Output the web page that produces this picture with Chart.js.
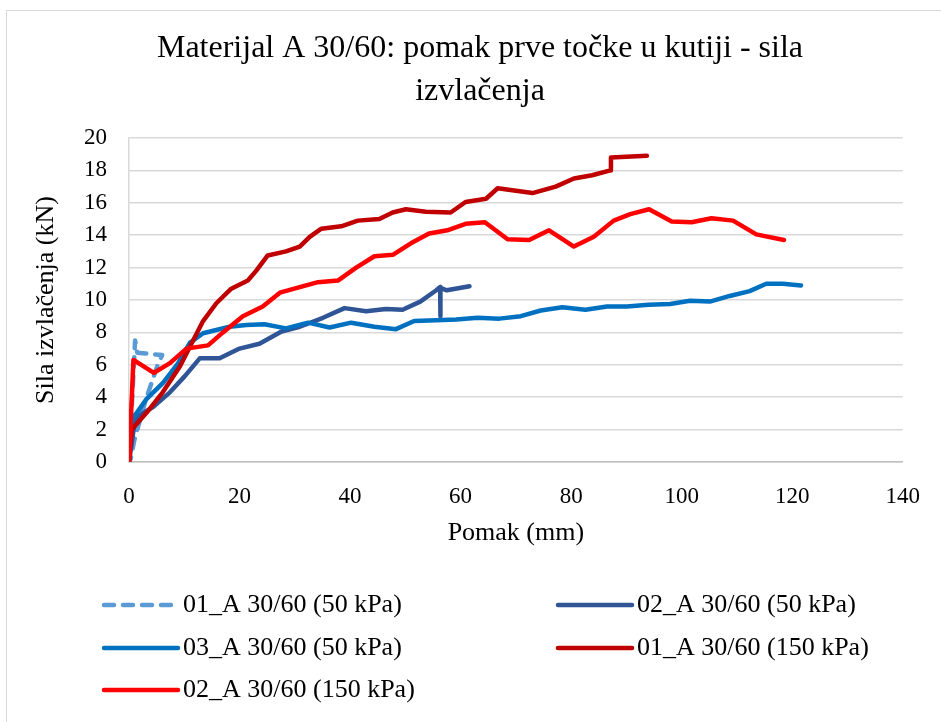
<!DOCTYPE html>
<html lang="hr">
<head>
<meta charset="utf-8">
<title>Materijal A 30/60</title>
<script src="https://cdn.jsdelivr.net/npm/chart.js@4"></script>
<style>
  html, body { margin: 0; padding: 0; background: #fff; }
  .chart-wrapper { position: relative; width: 941px; height: 722px; overflow: hidden; }
  .chart-frame { position: absolute; left: 6px; top: 10px; width: 960px; height: 760px; border: 1px solid #d9d9d9; }
  #pullout-canvas { position: absolute; left: 0; top: 0; }
</style>
</head>
<body>
<div class="chart-wrapper">
  <div class="chart-frame"></div>
  <canvas id="pullout-canvas" width="941" height="722"></canvas>
</div>
<script>
const titleLines = ['Materijal A 30/60: pomak prve točke u kutiji - sila', 'izvlačenja'];
const xTitle = 'Pomak (mm)';
const yTitle = 'Sila izvlačenja (kN)';
const xTicks = [0, 20, 40, 60, 80, 100, 120, 140];
const yTicks = [0, 2, 4, 6, 8, 10, 12, 14, 16, 18, 20];

const seriesLabels = [
  '01_A 30/60 (50 kPa)',
  '02_A 30/60 (50 kPa)',
  '03_A 30/60 (50 kPa)',
  '01_A 30/60 (150 kPa)',
  '02_A 30/60 (150 kPa)'
];

// pomak (mm) / sila (kN) po uzorku
const pomak01_50 = [0, 1.1, 1.5, 3.0, 6.0, 5.2, 3.0, 1.0, 0.3];
const sila01_50 = [0, 7.5, 6.75, 6.7, 6.6, 6.0, 3.8, 1.4, 0.2];

const pomak02_50 = [0, 1.0, 2.0, 4.4, 7.4, 10.1, 12.8, 16.4, 20, 23.6, 27.6, 30.9, 35.1, 39, 42.9, 46.5, 49.5, 52.7, 55.6, 56.3, 56.3, 56.4, 57.5, 61.6];
const sila02_50 = [0, 2.4, 2.9, 3.4, 4.3, 5.3, 6.4, 6.4, 7.0, 7.3, 8.05, 8.35, 8.9, 9.5, 9.3, 9.45, 9.4, 9.9, 10.6, 10.8, 9.0, 10.75, 10.6, 10.85];

const pomak03_50 = [0, 0.5, 3.2, 6.2, 8.9, 11, 13.4, 18.2, 21.2, 24.5, 28.4, 32.4, 36.3, 40.2, 44.4, 48.3, 51.6, 55.6, 59.2, 63.1, 67, 70.9, 74.5, 78.4, 82.6, 86.5, 90.1, 94, 97.9, 101.5, 105.1, 108.7, 112.3, 115.3, 118.3, 121.6];
const sila03_50 = [0, 2.6, 3.9, 4.9, 6.1, 7.35, 7.95, 8.35, 8.45, 8.5, 8.25, 8.6, 8.3, 8.6, 8.35, 8.2, 8.7, 8.75, 8.8, 8.9, 8.85, 9.0, 9.35, 9.55, 9.4, 9.6, 9.6, 9.7, 9.75, 9.95, 9.9, 10.25, 10.55, 11.0, 11.0, 10.9];

const pomak01_150 = [0, 0.5, 3.2, 6.1, 9.2, 11.6, 13.4, 15.8, 18.5, 21.5, 23, 25.1, 28.4, 30.9, 32.7, 34.8, 38.4, 41.4, 45.3, 47.7, 50.1, 53.7, 58.2, 60.9, 64.6, 66.7, 73, 77.2, 80.5, 83.8, 87.1, 87.2, 93.7];
const sila01_150 = [0, 2.0, 3.05, 4.3, 5.9, 7.5, 8.7, 9.8, 10.7, 11.2, 11.8, 12.75, 13.0, 13.3, 13.9, 14.4, 14.55, 14.9, 15.0, 15.4, 15.6, 15.45, 15.4, 16.05, 16.25, 16.9, 16.6, 17.0, 17.5, 17.7, 18.0, 18.8, 18.9];

const pomak02_150 = [0, 0.8, 4.5, 7.4, 10.4, 14.3, 17, 20.6, 24.2, 27.3, 30.9, 34.2, 37.8, 41.1, 44.4, 47.8, 51, 54.3, 57.6, 60.9, 64.4, 68.5, 72.4, 76, 80.5, 84.1, 87.7, 90.7, 94.1, 98.2, 101.8, 105.4, 109.3, 113.5, 118.5];
const sila02_150 = [0, 6.3, 5.5, 6.1, 7.0, 7.2, 8.0, 9.0, 9.6, 10.45, 10.8, 11.1, 11.2, 12.0, 12.7, 12.8, 13.5, 14.1, 14.3, 14.7, 14.8, 13.75, 13.7, 14.3, 13.3, 13.9, 14.9, 15.3, 15.6, 14.85, 14.8, 15.05, 14.9, 14.05, 13.7];

const FONT = "'Liberation Serif', 'Times New Roman', serif";

// legenda u dva stupca ispod grafa
const legendCols = [104, 558];
const legendRows = [605, 648, 690];

function toPoints(xs, ys) {
  return xs.map((x, i) => ({ x: x, y: ys[i] }));
}

function series(i, xs, ys, color, dash) {
  return {
    label: seriesLabels[i],
    data: toPoints(xs, ys),
    borderColor: color,
    borderWidth: 4.5,
    borderDash: dash || [],
    borderCapStyle: 'round',
    borderJoinStyle: 'round',
    pointRadius: 0,
    tension: 0,
    fill: false,
    order: seriesLabels.length - i
  };
}

const legendGrid = {
  id: 'legendGrid',
  afterDraw(chart) {
    const ctx = chart.ctx;
    ctx.save();
    ctx.font = '26px ' + FONT;
    ctx.textBaseline = 'middle';
    ctx.textAlign = 'left';
    chart.data.datasets.forEach((ds, i) => {
      const x = legendCols[i % 2];
      const y = legendRows[Math.floor(i / 2)];
      ctx.strokeStyle = ds.borderColor;
      ctx.lineWidth = ds.borderWidth;
      ctx.lineCap = 'round';
      ctx.setLineDash(ds.borderDash);
      ctx.beginPath();
      ctx.moveTo(x, y);
      ctx.lineTo(x + 74, y);
      ctx.stroke();
      ctx.setLineDash([]);
      ctx.fillStyle = '#000';
      ctx.fillText(ds.label, x + 79, y);
    });
    ctx.restore();
  }
};

const ctx = document.getElementById('pullout-canvas').getContext('2d');

new Chart(ctx, {
  type: 'line',
  data: {
    datasets: [
      series(0, pomak01_50, sila01_50, '#5b9bd5', [10, 9]),
      series(1, pomak02_50, sila02_50, '#2f5597'),
      series(2, pomak03_50, sila03_50, '#0070c0'),
      series(3, pomak01_150, sila01_150, '#c00000'),
      series(4, pomak02_150, sila02_150, '#ff0000')
    ]
  },
  options: {
    responsive: false,
    animation: false,
    // lijevi razmak centrira naslov iznad cijelog okvira
    layout: { padding: { left: 56, right: 37, top: 0, bottom: 160 } },
    plugins: {
      legend: { display: false },
      tooltip: { enabled: false },
      title: {
        display: true,
        text: titleLines,
        color: '#000',
        font: { family: FONT, size: 32, weight: 'normal', lineHeight: '43px' },
        padding: { top: 27, bottom: 25 }
      }
    },
    scales: {
      x: {
        type: 'linear',
        min: 0,
        max: 140,
        afterBuildTicks: (scale) => { scale.ticks = xTicks.map(v => ({ value: v })); },
        afterFit: (scale) => { scale.height = 100; },
        grid: { display: false, drawTicks: false },
        border: { display: true, color: '#bfbfbf', width: 1.5 },
        ticks: { color: '#000', padding: 21, font: { family: FONT, size: 23 } },
        title: {
          display: true,
          text: xTitle,
          color: '#000',
          font: { family: FONT, size: 26 },
          padding: { top: 0, bottom: 13 }
        }
      },
      y: {
        min: 0,
        max: 20,
        afterBuildTicks: (scale) => { scale.ticks = yTicks.map(v => ({ value: v })); },
        afterFit: (scale) => { scale.width = 73; },
        grid: { color: '#d9d9d9', lineWidth: 1.5, drawTicks: false },
        border: { display: true, color: '#d9d9d9', width: 1.5 },
        ticks: { color: '#000', padding: 22, font: { family: FONT, size: 23 } },
        title: {
          display: true,
          text: yTitle,
          color: '#000',
          font: { family: FONT, size: 26 },
          padding: { top: -25, bottom: 0 }
        }
      }
    }
  },
  plugins: [legendGrid]
});
</script>
</body>
</html>
